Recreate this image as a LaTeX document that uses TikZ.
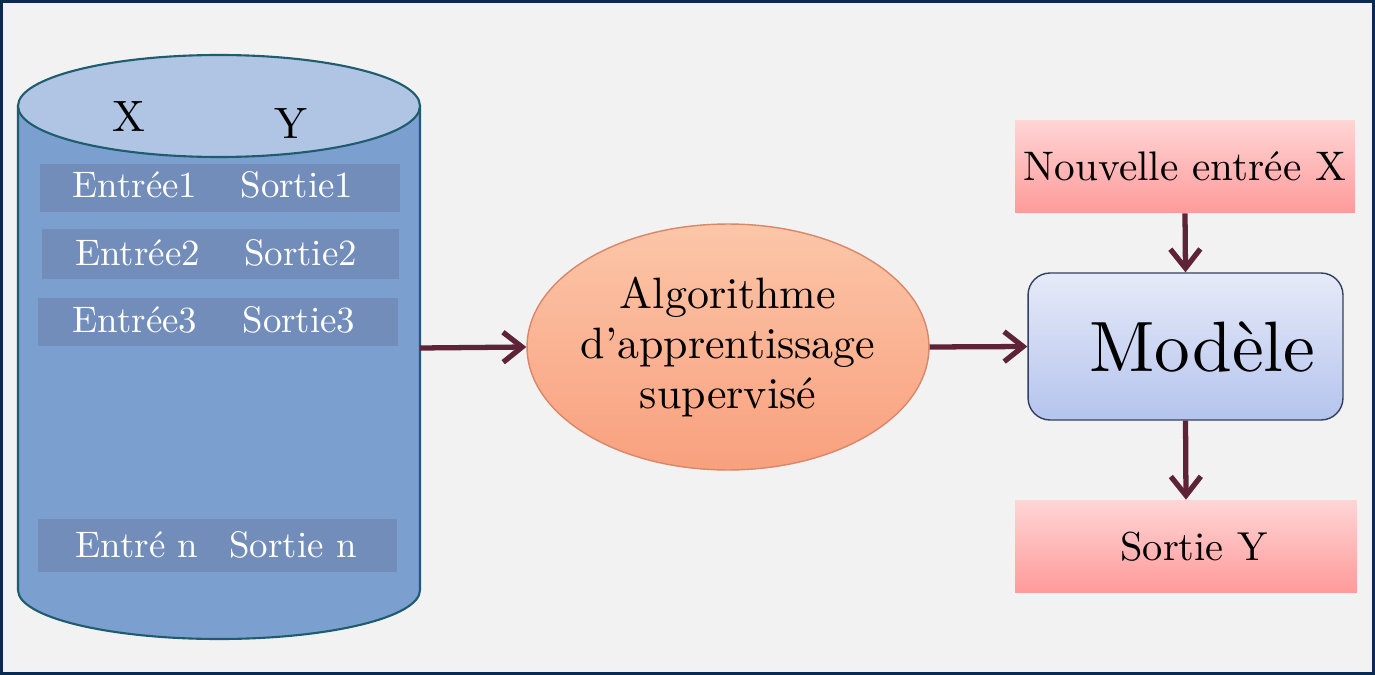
\documentclass[tikz,border=0pt]{standalone}
\usepackage{fontspec}
\setmainfont{lmroman10-regular.otf}
\usetikzlibrary{shapes.geometric,arrows.meta}
\definecolor{framec}{HTML}{0A2A52}
\definecolor{bgc}{HTML}{F2F2F2}
\definecolor{cylbody}{HTML}{7B9FCF}
\definecolor{cyltop}{HTML}{B0C5E3}
\definecolor{cylline}{HTML}{1E5C6E}
\definecolor{rowc}{HTML}{728DBA}
\definecolor{arrc}{HTML}{5E2336}
\definecolor{algtop}{HTML}{FBC6A8}
\definecolor{algbot}{HTML}{F9A07E}
\definecolor{algline}{HTML}{D9866A}
\definecolor{pinktop}{HTML}{FFD5D5}
\definecolor{pinkbot}{HTML}{FF9A9A}
\definecolor{modtop}{HTML}{E6EAF8}
\definecolor{modbot}{HTML}{B5C4EE}
\definecolor{modline}{HTML}{33415E}
\begin{document}
\begin{tikzpicture}[x=0.02cm,y=-0.02cm,
  rowbar/.style={fill=rowc,draw=none,inner sep=0pt},
  rowtxt/.style={text=white,anchor=base,inner sep=0pt,font=\fontsize{21}{25}\selectfont},
  coltxt/.style={text=black,anchor=base,inner sep=0pt,font=\fontsize{25}{30}\selectfont},
  arr/.style={draw=arrc,line width=3pt,-{Straight Barb[length=0.38cm,width=0.6cm]}},
  pinkbox/.style={rectangle,top color=pinktop,bottom color=pinkbot,draw=none,minimum width=6.8cm,minimum height=1.86cm,inner sep=0pt}
]
\useasboundingbox (0,0) rectangle (1375,675);
\fill[framec] (0,0) rectangle (1375,675);
\fill[bgc] (3,3) rectangle (1372,672);

% cylinder
\path[fill=cylbody,draw=cylline,line width=1.2pt]
  (18,106) -- (18,590) arc[start angle=180,end angle=0,x radius=201,y radius=49] -- (420,106) -- cycle;
\path[fill=cyltop,draw=cylline,line width=1.2pt] (219,106) ellipse[x radius=201,y radius=51];
\coordinate (cylR) at (420,348);

% rows
\node[rowbar,minimum width=7.2cm,minimum height=0.96cm] (r1) at (220,188) {};
\node[rowbar,minimum width=7.14cm,minimum height=1.0cm] (r2) at (220.5,254) {};
\node[rowbar,minimum width=7.2cm,minimum height=0.96cm] (r3) at (218,322) {};
\node[rowbar,minimum width=7.18cm,minimum height=1.06cm] (rn) at (217.5,545.5) {};

\node[coltxt] (hx) at (129,132) {X};
\node[coltxt] (hy) at (291,139) {Y};

\node[rowtxt] (e1) at (135,198) {Entrée1};
\node[rowtxt] (s1) at (297,198) {Sortie1};
\node[rowtxt] (e2) at (137.5,266) {Entrée2};
\node[rowtxt] (s2) at (300.5,266) {Sortie2};
\node[rowtxt] (e3) at (135,333) {Entrée3};
\node[rowtxt] (s3) at (299,333) {Sortie3};
\node[rowtxt] (en) at (137,557) {Entré n};
\node[rowtxt] (sn) at (293,557) {Sortie n};

% algorithm ellipse
\node[ellipse,top color=algtop,bottom color=algbot,draw=algline,line width=0.8pt,
  minimum width=8.04cm,minimum height=4.92cm,inner xsep=-0.25cm,inner ysep=0pt,align=center,
  font=\fontsize{25}{28.5}\selectfont] (alg) at (728,347)
  {Algorithme\\d’apprentissage\\supervisé};

% model
\node[rectangle,rounded corners=0.44cm,top color=modtop,bottom color=modbot,draw=modline,line width=0.8pt,
  minimum width=6.3cm,minimum height=2.94cm,inner sep=0pt,font=\fontsize{40.6}{46}\selectfont] (model) at (1185.5,346.5)
  {\hspace*{0.68cm}Modèle};

\node[pinkbox,font=\fontsize{23.5}{28}\selectfont] (newx) at (1185,166.5) {Nouvelle entrée X};
\node[pinkbox,minimum width=6.84cm,font=\fontsize{23}{28}\selectfont] (outy) at (1186,546.5) {\hspace*{0.32cm}Sortie Y};

% arrows
\draw[arr] (cylR) -- (alg.west);
\draw[arr] (alg.east) -- (model.west);
\draw[arr] (newx.south) -- (model.north);
\draw[arr] (model.south) -- (outy.north);
\end{tikzpicture}
\end{document}
